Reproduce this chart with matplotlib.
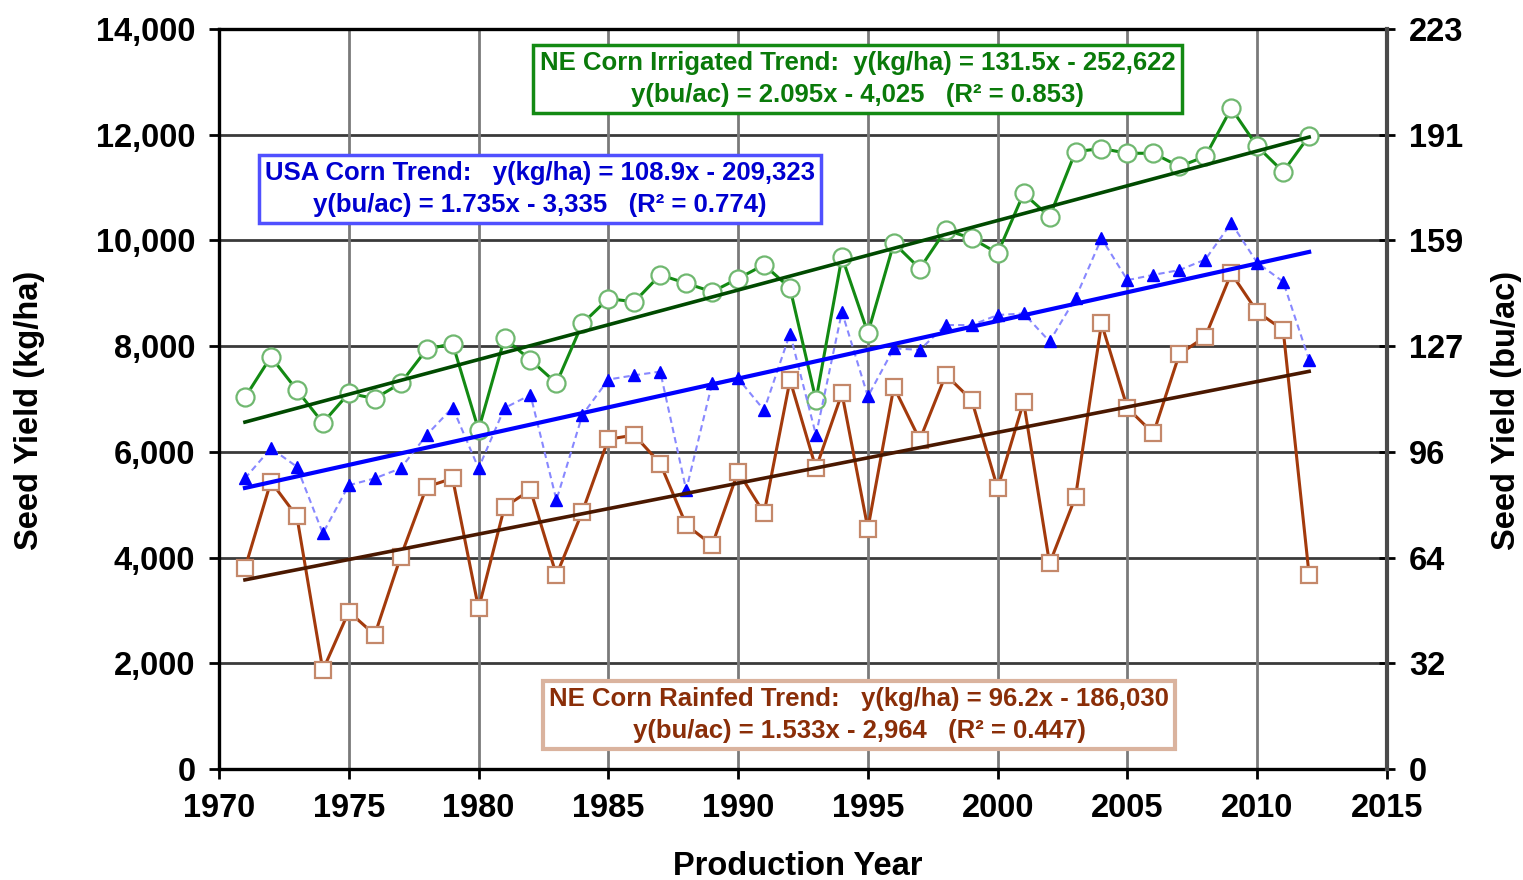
import matplotlib
matplotlib.use('Agg')
import matplotlib.pyplot as plt
import numpy as np

plt.rcParams['font.family'] = ['Liberation Sans', 'DejaVu Sans']
plt.rcParams['font.weight'] = 'bold'

# corn: 1 bu/ac = 62.77 kg/ha
KG_PER_BU = 62.77

years = np.arange(1971, 2013)

ne_irrigated = [7030, 7800, 7170, 6550, 7110, 7010, 7300, 7940, 8050, 6420,
                8150, 7740, 7300, 8430, 8900, 8840, 9350, 9190, 9030, 9280,
                9540, 9100, 6980, 9690, 8250, 9950, 9470, 10200, 10040, 9760,
                10890, 10450, 11680, 11740, 11650, 11650, 11400, 11590, 12500,
                11780, 11300, 11980]

usa = [5500, 6070, 5720, 4460, 5370, 5500, 5690, 6320, 6840, 5690,
       6830, 7080, 5090, 6700, 7370, 7450, 7520, 5280, 7300, 7390,
       6790, 8240, 6320, 8650, 7050, 7960, 7930, 8400, 8400, 8590,
       8620, 8090, 8910, 10040, 9250, 9350, 9440, 9640, 10330, 9580,
       9220, 7740]

ne_rainfed = [3800, 5440, 4780, 1870, 2980, 2540, 4020, 5340, 5500, 3040,
              4960, 5280, 3670, 4870, 6240, 6320, 5780, 4620, 4240, 5630,
              4840, 7360, 5690, 7110, 4550, 7230, 6230, 7460, 6980, 5310,
              6950, 3890, 5150, 8430, 6830, 6350, 7850, 8180, 9380, 8650,
              8310, 3670]

# linear trends: (kg/ha slope, kg/ha intercept, bu/ac slope, bu/ac intercept, R2)
irr_trend = (131.5, -252622, 2.095, -4025, 0.853)
usa_trend = (108.9, -209323, 1.735, -3335, 0.774)
rain_trend = (96.2, -186030, 1.533, -2964, 0.447)

yield_ticks = np.arange(0, 14001, 2000)
year_ticks = np.arange(1970, 2016, 5)


def trend_text(name, trend, gap):
    m, b, mb, bb, r2 = trend
    return (f'{name} Trend:{gap}y(kg/ha) = {m:.1f}x - {-b:,.0f}\n'
            f'y(bu/ac) = {mb:.3f}x - {-bb:,.0f}   (R\u00b2 = {r2:.3f})')


def trend_line(trend):
    m, b = trend[0], trend[1]
    return m * years + b


fig = plt.figure(figsize=(15.23, 8.8), dpi=100)
ax = fig.add_axes([0.1438, 0.126, 0.7669, 0.841])

ax.set_xlim(1970, 2015)
ax.set_ylim(0, 14000)
ax.set_xticks(year_ticks)
ax.set_yticks(yield_ticks)
ax.set_yticklabels([f'{v:,}' for v in yield_ticks])

for v in yield_ticks[1:-1]:
    ax.axhline(v, color='#3a3a3a', lw=2.0, zorder=1)
for yr in year_ticks[1:-1]:
    ax.axvline(yr, color='#7a7a7a', lw=2.0, zorder=1)

# yearly yields
ax.plot(years, ne_irrigated, '-', color='#138a13', lw=2.2, marker='o',
        ms=13, mfc='white', mec='#70b870', mew=1.6, zorder=3)
ax.plot(years, usa, '--', color='#8888ff', lw=1.5, dashes=(3, 2),
        marker='^', ms=8, mfc='#0000ff', mec='#0000ff', zorder=4)
ax.plot(years, ne_rainfed, '-', color='#a33a0c', lw=2.2, marker='s',
        ms=12, mfc='white', mec='#c4886a', mew=1.6, zorder=3)

# trend lines
ax.plot(years, trend_line(irr_trend), color='#004a00', lw=2.6, zorder=5)
ax.plot(years, trend_line(usa_trend), color='#0000ff', lw=3.0, zorder=5)
ax.plot(years, trend_line(rain_trend), color='#4a1800', lw=2.6, zorder=5)

box_font = dict(fontsize=18.5, fontweight='bold', ha='center', va='center',
                multialignment='center', linespacing=1.4,
                transform=ax.transAxes, zorder=6)
ax.text(0.5467, 0.9324, trend_text('NE Corn Irrigated', irr_trend, '  '),
        color='#0a7a0a',
        bbox=dict(boxstyle='square,pad=0.25', fc='white', ec='#138a13',
                  lw=2.5), **box_font)
ax.text(0.2748, 0.7838, trend_text('USA Corn', usa_trend, '   '),
        color='#0000d0',
        bbox=dict(boxstyle='square,pad=0.25', fc='white', ec='#5050ff',
                  lw=2.5), **box_font)
ax.text(0.548, 0.073, trend_text('NE Corn Rainfed', rain_trend, '   '),
        color='#8a2e08',
        bbox=dict(boxstyle='square,pad=0.25', fc='white', ec='#dab39e',
                  lw=3.0), **box_font)

for side in ['left', 'bottom', 'top']:
    ax.spines[side].set_color('black')
    ax.spines[side].set_linewidth(2.4)
ax.spines['right'].set_visible(False)

ax.tick_params(axis='both', labelsize=23.5, width=2, length=7, pad=10,
               colors='black')

# bu/ac scale on the right
ax2 = ax.twinx()
ax2.set_ylim(0, 14000 / KG_PER_BU)
ax2.set_yticks(yield_ticks / KG_PER_BU)
ax2.set_yticklabels([f'{v / KG_PER_BU:.0f}' for v in yield_ticks])
ax2.spines['right'].set_color('#4a4a4a')
ax2.spines['right'].set_linewidth(3.0)
for side in ['left', 'bottom', 'top']:
    ax2.spines[side].set_visible(False)
ax2.tick_params(axis='y', labelsize=23.5, width=2, length=12,
                direction='inout', pad=10)

fig.text(0.524, 1 - 866 / 880, 'Production Year', fontsize=23.5,
         fontweight='bold', ha='center', va='center')
fig.text(30 / 1523, 1 - 410 / 880, 'Seed Yield (kg/ha)', fontsize=23.5,
         fontweight='bold', ha='center', va='center', rotation=90)
fig.text(1507 / 1523, 1 - 410 / 880, 'Seed Yield (bu/ac)', fontsize=23.5,
         fontweight='bold', ha='center', va='center', rotation=90)

fig.savefig('out.png', dpi=100)
